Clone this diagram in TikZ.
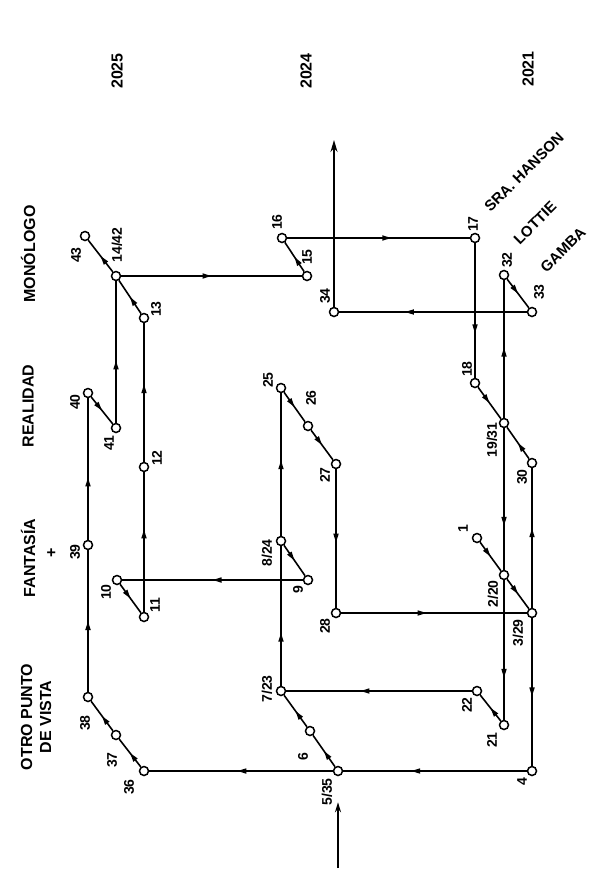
\documentclass[tikz,border=0pt]{standalone}
\usepackage{fontspec}
\setmainfont{Liberation Sans}
\usetikzlibrary{shapes,arrows.meta,decorations.markings}

\begin{document}
\begin{tikzpicture}[x=1pt,y=-1pt]
    \tikzstyle{station}=[circle,draw,fill=white,line width=1.5pt,inner sep=0pt,minimum size=9pt]
    \tikzstyle{num}=[font=\bfseries\fontsize{14}{16}\selectfont,rotate=90,inner sep=0pt]
    \tikzstyle{colhead}=[font=\bfseries\fontsize{16}{19}\selectfont,rotate=90,inner sep=0pt,align=center]
    \tikzstyle{who}=[font=\bfseries\fontsize{15}{18}\selectfont,rotate=45,inner sep=0pt]
    \tikzstyle{route}=[line width=1.6pt]
    \tikzstyle{midarrow}[0.5]=[postaction={decorate},decoration={markings,mark=at position #1 with {\arrow{Triangle[length=9pt,width=5pt]}}}]
    \useasboundingbox (0,0) rectangle (600,880);

    \node[colhead] (y25) at (117,71) {2025};
    \node[colhead] (y24) at (306,71) {2024};
    \node[colhead] (y21) at (528,69) {2021};
    \node[colhead] (hmono) at (28,254) {MONÓLOGO};
    \node[colhead] (hreal) at (28,406) {REALIDAD};
    \node[colhead] (hfant) at (28,558) {FANTASÍA};
    \node[colhead] (hplus) at (52,553) {+};
    \node[colhead] (hotro) at (36,717) {OTRO PUNTO\\DE VISTA};
    \node[who] (hanson) at (524,172) {SRA. HANSON};
    \node[who] (lottie) at (535,223) {LOTTIE};
    \node[who] (gamba) at (563,250) {GAMBA};

    \node[station] (p1) at (477,538) {};
    \node[station] (p2) at (504,575) {};
    \node[station] (p3) at (532,613) {};
    \node[station] (p4) at (532,771) {};
    \node[station] (p5) at (338,771) {};
    \node[station] (p6) at (310,731) {};
    \node[station] (p7) at (281,691) {};
    \node[station] (p8) at (281,541) {};
    \node[station] (p9) at (308,580) {};
    \node[station] (p10) at (117,580) {};
    \node[station] (p11) at (144,617) {};
    \node[station] (p12) at (144,467) {};
    \node[station] (p13) at (144,318) {};
    \node[station] (p14) at (116,276) {};
    \node[station] (p15) at (307,276) {};
    \node[station] (p16) at (282,238) {};
    \node[station] (p17) at (475,238) {};
    \node[station] (p18) at (475,383) {};
    \node[station] (p19) at (504,423) {};
    \node[station] (p21) at (504,725) {};
    \node[station] (p22) at (477,691) {};
    \node[station] (p25) at (281,388) {};
    \node[station] (p26) at (308,426) {};
    \node[station] (p27) at (336,464) {};
    \node[station] (p28) at (336,613) {};
    \node[station] (p30) at (532,463) {};
    \node[station] (p32) at (504,275) {};
    \node[station] (p33) at (532,312) {};
    \node[station] (p34) at (334,312) {};
    \node[station] (p36) at (144,771) {};
    \node[station] (p37) at (116,735) {};
    \node[station] (p38) at (88,697) {};
    \node[station] (p39) at (88,545) {};
    \node[station] (p40) at (88,393) {};
    \node[station] (p41) at (116,428) {};
    \node[station] (p43) at (85,236) {};
    \coordinate (exit) at (334,140);
    \coordinate (entry) at (338,868);

    \node[num] (l1) at (463,529) {1};
    \node[num] (l2) at (493,594) {2/20};
    \node[num] (l3) at (518,633) {3/29};
    \node[num] (l4) at (522,782) {4};
    \node[num] (l5) at (327,792) {5/35};
    \node[num] (l6) at (303,757) {6};
    \node[num] (l7) at (267,689) {7/23};
    \node[num] (l8) at (267,553) {8/24};
    \node[num] (l9) at (298,590) {9};
    \node[num] (l10) at (106,592) {10};
    \node[num] (l11) at (155,605) {11};
    \node[num] (l12) at (157,458) {12};
    \node[num] (l13) at (156,309) {13};
    \node[num] (l14) at (117,245) {14/42};
    \node[num] (l15) at (307,257) {15};
    \node[num] (l16) at (277,222) {16};
    \node[num] (l17) at (473,224) {17};
    \node[num] (l18) at (467,369) {18};
    \node[num] (l19) at (492,440) {19/31};
    \node[num] (l21) at (492,740) {21};
    \node[num] (l22) at (467,705) {22};
    \node[num] (l25) at (268,380) {25};
    \node[num] (l26) at (311,398) {26};
    \node[num] (l27) at (325,475) {27};
    \node[num] (l28) at (325,626) {28};
    \node[num] (l30) at (522,477) {30};
    \node[num] (l32) at (507,260) {32};
    \node[num] (l33) at (539,292) {33};
    \node[num] (l34) at (325,296) {34};
    \node[num] (l36) at (129,787) {36};
    \node[num] (l37) at (112,760) {37};
    \node[num] (l38) at (85,723) {38};
    \node[num] (l39) at (75,552) {39};
    \node[num] (l40) at (75,402) {40};
    \node[num] (l41) at (109,443) {41};
    \node[num] (l43) at (76,255) {43};

    \draw[route,midarrow] (p1) -- (p2);
    \draw[route,midarrow] (p2) -- (p3);
    \draw[route,midarrow=0.53] (p3) -- (p4);
    \draw[route,midarrow=0.63] (p4) -- (p5);
    \draw[route,midarrow] (p5) -- (p6);
    \draw[route,midarrow] (p6) -- (p7);
    \draw[route,midarrow=0.38] (p7) -- (p8);
    \draw[route,midarrow] (p8) -- (p9);
    \draw[route,midarrow] (p9) -- (p10);
    \draw[route,midarrow] (p10) -- (p11);
    \draw[route,midarrow=0.59] (p11) -- (p12);
    \draw[route,midarrow=0.56] (p12) -- (p13);
    \draw[route,midarrow] (p13) -- (p14);
    \draw[route,midarrow] (p14) -- (p15);
    \draw[route,midarrow] (p15) -- (p16);
    \draw[route,midarrow=0.57] (p16) -- (p17);
    \draw[route,midarrow=0.67] (p17) -- (p18);
    \draw[route,midarrow] (p18) -- (p19);
    \draw[route,midarrow=0.69] (p19) -- (p2);
    \draw[route,midarrow=0.7] (p2) -- (p21);
    \draw[route,midarrow] (p21) -- (p22);
    \draw[route,midarrow=0.6] (p22) -- (p7);
    \draw[route,midarrow=0.53] (p8) -- (p25);
    \draw[route,midarrow] (p25) -- (p26);
    \draw[route,midarrow] (p26) -- (p27);
    \draw[route,midarrow=0.53] (p27) -- (p28);
    \draw[route,midarrow=0.46] (p28) -- (p3);
    \draw[route,midarrow=0.57] (p3) -- (p30);
    \draw[route,midarrow] (p30) -- (p19);
    \draw[route,midarrow=0.51] (p19) -- (p32);
    \draw[route,midarrow] (p32) -- (p33);
    \draw[route,midarrow=0.65] (p33) -- (p34);
    \draw[route,-{Stealth[length=12pt,width=7pt]}] (p34) -- (exit);
    \draw[route,-{Stealth[length=10pt,width=6pt]},shorten >=26pt] (entry) -- (p5);
    \draw[route,midarrow=0.52] (p5) -- (p36);
    \draw[route,midarrow] (p36) -- (p37);
    \draw[route,midarrow] (p37) -- (p38);
    \draw[route,midarrow] (p38) -- (p39);
    \draw[route,midarrow=0.44] (p39) -- (p40);
    \draw[route,midarrow] (p40) -- (p41);
    \draw[route,midarrow=0.44] (p41) -- (p14);
    \draw[route,midarrow] (p14) -- (p43);
  \end{tikzpicture}
\end{document}
